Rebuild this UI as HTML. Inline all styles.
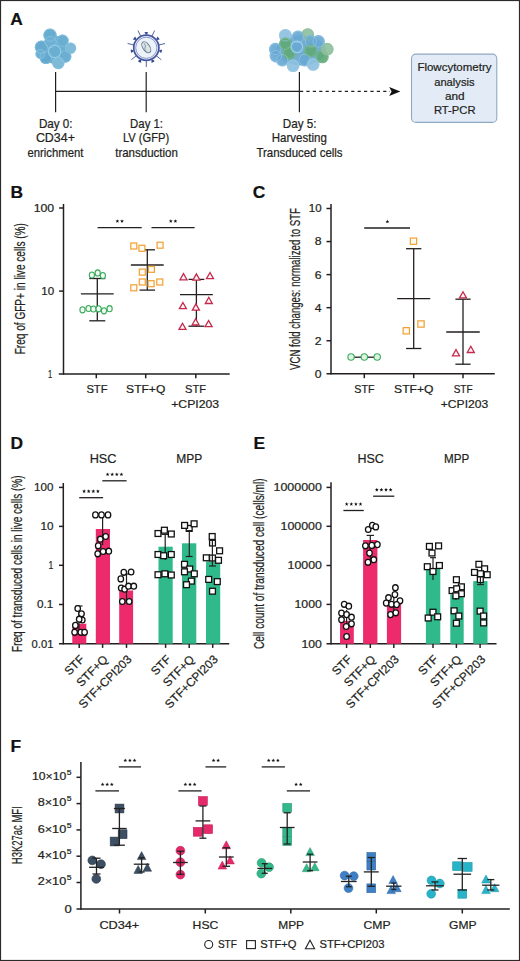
<!DOCTYPE html>
<html><head><meta charset="utf-8"><style>
html,body{margin:0;padding:0;background:#fff;}
body{width:520px;height:961px;overflow:hidden;}
svg{display:block;font-family:"Liberation Sans", sans-serif;}
text{stroke:#231f20;stroke-width:0.22px;paint-order:stroke;}
</style></head><body>
<svg width="520" height="961" viewBox="0 0 520 961">
<rect x="0" y="0" width="520" height="961" fill="#fff"/>
<text x="10.20" y="25.00" font-size="17.4" fill="#111" font-weight="bold">A</text>
<circle cx="55.50" cy="50.00" r="14.00" fill="#6aaed2" stroke="none" stroke-width="0"/>
<circle cx="50.00" cy="35.20" r="6.60" fill="#68acd0" stroke="none" stroke-width="0"/>
<circle cx="62.50" cy="40.80" r="6.20" fill="#6aaed2" stroke="none" stroke-width="0"/>
<circle cx="70.60" cy="48.20" r="5.60" fill="#80bcd9" stroke="none" stroke-width="0"/>
<circle cx="41.40" cy="47.20" r="6.60" fill="#66aad0" stroke="none" stroke-width="0"/>
<circle cx="50.50" cy="42.00" r="6.20" fill="#6eb0d3" stroke="none" stroke-width="0"/>
<circle cx="45.90" cy="57.60" r="6.40" fill="#64a8ce" stroke="none" stroke-width="0"/>
<circle cx="65.20" cy="56.50" r="6.20" fill="#6caed2" stroke="none" stroke-width="0"/>
<circle cx="58.30" cy="63.00" r="6.20" fill="#7cbad8" stroke="none" stroke-width="0"/>
<circle cx="54.60" cy="51.40" r="7.00" fill="#6aaed2" stroke="none" stroke-width="0"/>
<circle cx="40.50" cy="54.00" r="5.00" fill="#6eb0d3" stroke="none" stroke-width="0"/>
<circle cx="50.00" cy="35.20" r="6.07" fill="none" stroke="#8ac6e2" stroke-width="0.8" stroke-opacity="0.8"/>
<circle cx="62.50" cy="40.80" r="5.70" fill="none" stroke="#8ac6e2" stroke-width="0.8" stroke-opacity="0.8"/>
<circle cx="70.60" cy="48.20" r="5.15" fill="none" stroke="#8ac6e2" stroke-width="0.8" stroke-opacity="0.8"/>
<circle cx="41.40" cy="47.20" r="6.07" fill="none" stroke="#8ac6e2" stroke-width="0.8" stroke-opacity="0.8"/>
<circle cx="50.50" cy="42.00" r="5.70" fill="none" stroke="#8ac6e2" stroke-width="0.8" stroke-opacity="0.8"/>
<circle cx="45.90" cy="57.60" r="5.89" fill="none" stroke="#8ac6e2" stroke-width="0.8" stroke-opacity="0.8"/>
<circle cx="65.20" cy="56.50" r="5.70" fill="none" stroke="#8ac6e2" stroke-width="0.8" stroke-opacity="0.8"/>
<circle cx="58.30" cy="63.00" r="5.70" fill="none" stroke="#8ac6e2" stroke-width="0.8" stroke-opacity="0.8"/>
<circle cx="54.60" cy="51.40" r="6.44" fill="none" stroke="#8ac6e2" stroke-width="0.8" stroke-opacity="0.8"/>
<circle cx="40.50" cy="54.00" r="4.60" fill="none" stroke="#8ac6e2" stroke-width="0.8" stroke-opacity="0.8"/>
<circle cx="54.60" cy="51.40" r="6.20" fill="none" stroke="#92cbe6" stroke-width="1.1"/>
<polygon points="146.80,34.60 148.20,32.20 146.30,31.90 144.40,32.20 145.80,34.60" fill="#34478f"/>
<line x1="151.85" y1="36.27" x2="154.63" y2="30.50" stroke="#56649f" stroke-width="1.0"/>
<polygon points="156.93,39.96 159.68,39.56 158.73,37.89 157.31,36.59 156.31,39.18" fill="#34478f"/>
<line x1="158.78" y1="44.95" x2="165.02" y2="43.53" stroke="#56649f" stroke-width="1.0"/>
<polygon points="159.06,51.22 161.09,53.12 161.80,51.34 161.93,49.42 159.28,50.25" fill="#34478f"/>
<line x1="156.31" y1="55.78" x2="161.31" y2="59.77" stroke="#56649f" stroke-width="1.0"/>
<polygon points="151.58,59.91 151.36,62.68 153.20,62.13 154.78,61.03 152.48,59.48" fill="#34478f"/>
<line x1="146.30" y1="60.60" x2="146.30" y2="67.00" stroke="#56649f" stroke-width="1.0"/>
<polygon points="140.12,59.48 137.82,61.03 139.40,62.13 141.24,62.68 141.02,59.91" fill="#34478f"/>
<line x1="136.29" y1="55.78" x2="131.29" y2="59.77" stroke="#56649f" stroke-width="1.0"/>
<polygon points="133.32,50.25 130.67,49.42 130.80,51.34 131.51,53.12 133.54,51.22" fill="#34478f"/>
<line x1="133.82" y1="44.95" x2="127.58" y2="43.53" stroke="#56649f" stroke-width="1.0"/>
<polygon points="136.29,39.18 135.29,36.59 133.87,37.89 132.92,39.56 135.67,39.96" fill="#34478f"/>
<line x1="140.75" y1="36.27" x2="137.97" y2="30.50" stroke="#56649f" stroke-width="1.0"/>
<circle cx="146.30" cy="47.80" r="12.60" fill="#edf1fa" stroke="#4555a0" stroke-width="1.7"/>
<circle cx="146.30" cy="47.80" r="10.60" fill="none" stroke="#7080bd" stroke-width="0.8"/>
<ellipse cx="146.60000000000002" cy="47.3" rx="3.4" ry="6.2" transform="rotate(-35 146.3 47.8)" fill="#d9e2e4" stroke="#6b8090" stroke-width="1.0"/>
<path d="M144.10000000000002,43.3 q2.5,2.5 0.8,5 q-1,2.2 2.6,4.2" fill="none" stroke="#71868f" stroke-width="0.8"/>
<ellipse cx="301" cy="50.5" rx="25" ry="15" fill="#74aecb"/>
<circle cx="276.00" cy="56.00" r="6.40" fill="#68a8d4" stroke="none" stroke-width="0" fill-opacity="0.92"/>
<circle cx="275.40" cy="49.20" r="6.40" fill="#68a8d4" stroke="none" stroke-width="0" fill-opacity="0.92"/>
<circle cx="285.40" cy="35.40" r="6.40" fill="#8cc0df" stroke="none" stroke-width="0" fill-opacity="0.92"/>
<circle cx="307.70" cy="34.60" r="6.40" fill="#8fc0a0" stroke="none" stroke-width="0" fill-opacity="0.92"/>
<circle cx="282.30" cy="60.00" r="6.40" fill="#68a8d4" stroke="none" stroke-width="0" fill-opacity="0.92"/>
<circle cx="293.10" cy="65.60" r="6.40" fill="#8cc0df" stroke="none" stroke-width="0" fill-opacity="0.92"/>
<circle cx="304.60" cy="60.00" r="6.40" fill="#68a8d4" stroke="none" stroke-width="0" fill-opacity="0.92"/>
<circle cx="313.10" cy="64.40" r="6.40" fill="#8cc0df" stroke="none" stroke-width="0" fill-opacity="0.92"/>
<circle cx="285.40" cy="43.80" r="6.40" fill="#5fa877" stroke="none" stroke-width="0" fill-opacity="0.92"/>
<circle cx="289.20" cy="53.10" r="6.40" fill="#5fa877" stroke="none" stroke-width="0" fill-opacity="0.92"/>
<circle cx="296.90" cy="46.90" r="6.40" fill="#68a8d4" stroke="none" stroke-width="0" fill-opacity="0.92"/>
<circle cx="310.80" cy="41.50" r="6.40" fill="#68a8d4" stroke="none" stroke-width="0" fill-opacity="0.92"/>
<circle cx="318.50" cy="41.50" r="6.40" fill="#68a8d4" stroke="none" stroke-width="0" fill-opacity="0.92"/>
<circle cx="310.80" cy="50.80" r="6.40" fill="#5fa877" stroke="none" stroke-width="0" fill-opacity="0.92"/>
<circle cx="322.30" cy="56.90" r="6.40" fill="#5fa877" stroke="none" stroke-width="0" fill-opacity="0.92"/>
<circle cx="327.20" cy="49.20" r="6.40" fill="#8fc0a0" stroke="none" stroke-width="0" fill-opacity="0.92"/>
<circle cx="298.00" cy="37.00" r="6.40" fill="#68a8d4" stroke="none" stroke-width="0" fill-opacity="0.92"/>
<circle cx="276.00" cy="56.00" r="5.60" fill="none" stroke="#9cc9e4" stroke-width="0.8" stroke-opacity="0.8"/>
<circle cx="275.40" cy="49.20" r="5.60" fill="none" stroke="#9cc9e4" stroke-width="0.8" stroke-opacity="0.8"/>
<circle cx="285.40" cy="35.40" r="5.60" fill="none" stroke="#9cc9e4" stroke-width="0.8" stroke-opacity="0.8"/>
<circle cx="307.70" cy="34.60" r="5.60" fill="none" stroke="#86c096" stroke-width="0.8" stroke-opacity="0.8"/>
<circle cx="282.30" cy="60.00" r="5.60" fill="none" stroke="#9cc9e4" stroke-width="0.8" stroke-opacity="0.8"/>
<circle cx="293.10" cy="65.60" r="5.60" fill="none" stroke="#9cc9e4" stroke-width="0.8" stroke-opacity="0.8"/>
<circle cx="304.60" cy="60.00" r="5.60" fill="none" stroke="#9cc9e4" stroke-width="0.8" stroke-opacity="0.8"/>
<circle cx="313.10" cy="64.40" r="5.60" fill="none" stroke="#9cc9e4" stroke-width="0.8" stroke-opacity="0.8"/>
<circle cx="285.40" cy="43.80" r="5.60" fill="none" stroke="#86c096" stroke-width="0.8" stroke-opacity="0.8"/>
<circle cx="289.20" cy="53.10" r="5.60" fill="none" stroke="#86c096" stroke-width="0.8" stroke-opacity="0.8"/>
<circle cx="296.90" cy="46.90" r="5.60" fill="none" stroke="#9cc9e4" stroke-width="0.8" stroke-opacity="0.8"/>
<circle cx="310.80" cy="41.50" r="5.60" fill="none" stroke="#9cc9e4" stroke-width="0.8" stroke-opacity="0.8"/>
<circle cx="318.50" cy="41.50" r="5.60" fill="none" stroke="#9cc9e4" stroke-width="0.8" stroke-opacity="0.8"/>
<circle cx="310.80" cy="50.80" r="5.60" fill="none" stroke="#86c096" stroke-width="0.8" stroke-opacity="0.8"/>
<circle cx="322.30" cy="56.90" r="5.60" fill="none" stroke="#86c096" stroke-width="0.8" stroke-opacity="0.8"/>
<circle cx="327.20" cy="49.20" r="5.60" fill="none" stroke="#86c096" stroke-width="0.8" stroke-opacity="0.8"/>
<circle cx="298.00" cy="37.00" r="5.60" fill="none" stroke="#9cc9e4" stroke-width="0.8" stroke-opacity="0.8"/>
<circle cx="296.90" cy="46.90" r="5.80" fill="none" stroke="#98cdee" stroke-width="1.2"/>
<line x1="55.60" y1="71.90" x2="55.60" y2="112.30" stroke="#231f20" stroke-width="1.2"/>
<line x1="146.20" y1="71.90" x2="146.20" y2="112.30" stroke="#231f20" stroke-width="1.2"/>
<line x1="299.40" y1="71.90" x2="299.40" y2="112.30" stroke="#231f20" stroke-width="1.2"/>
<line x1="55.60" y1="91.40" x2="299.40" y2="91.40" stroke="#231f20" stroke-width="1.2"/>
<line x1="299.40" y1="91.40" x2="390.00" y2="91.40" stroke="#231f20" stroke-width="1.2" stroke-dasharray="3.2 3.2" stroke-dashoffset="-0.6"/>
<path d="M400.3,91.4 L389.2,86.9 L391.6,91.4 L389.2,95.9 Z" fill="#111"/>
<text x="55.75" y="127.60" font-size="12.2" fill="#231f20" text-anchor="middle" textLength="33.70" lengthAdjust="spacingAndGlyphs">Day 0:</text>
<text x="55.40" y="142.20" font-size="12.2" fill="#231f20" text-anchor="middle" textLength="39.00" lengthAdjust="spacingAndGlyphs">CD34+</text>
<text x="55.40" y="156.80" font-size="12.2" fill="#231f20" text-anchor="middle" textLength="56.00" lengthAdjust="spacingAndGlyphs">enrichment</text>
<text x="146.55" y="127.60" font-size="12.2" fill="#231f20" text-anchor="middle" textLength="32.90" lengthAdjust="spacingAndGlyphs">Day 1:</text>
<text x="146.00" y="142.20" font-size="12.2" fill="#231f20" text-anchor="middle" textLength="46.20" lengthAdjust="spacingAndGlyphs">LV (GFP)</text>
<text x="146.55" y="156.80" font-size="12.2" fill="#231f20" text-anchor="middle" textLength="62.70" lengthAdjust="spacingAndGlyphs">transduction</text>
<text x="299.70" y="127.60" font-size="12.2" fill="#231f20" text-anchor="middle" textLength="33.80" lengthAdjust="spacingAndGlyphs">Day 5:</text>
<text x="299.30" y="142.20" font-size="12.2" fill="#231f20" text-anchor="middle" textLength="55.00" lengthAdjust="spacingAndGlyphs">Harvesting</text>
<text x="299.50" y="156.80" font-size="12.2" fill="#231f20" text-anchor="middle" textLength="86.20" lengthAdjust="spacingAndGlyphs">Transduced cells</text>
<rect x="411.5" y="54.1" width="85.3" height="68.3" rx="4.5" fill="#e2ebf6" stroke="#8fa8c2" stroke-width="1.1"/>
<text x="454.45" y="71.20" font-size="11.7" fill="#231f20" text-anchor="middle" textLength="74.10" lengthAdjust="spacingAndGlyphs">Flowcytometry</text>
<text x="454.40" y="85.70" font-size="11.7" fill="#231f20" text-anchor="middle" textLength="40.40" lengthAdjust="spacingAndGlyphs">analysis</text>
<text x="454.75" y="100.20" font-size="11.7" fill="#231f20" text-anchor="middle" textLength="19.70" lengthAdjust="spacingAndGlyphs">and</text>
<text x="454.70" y="114.40" font-size="11.7" fill="#231f20" text-anchor="middle" textLength="41.60" lengthAdjust="spacingAndGlyphs">RT-PCR</text>
<text x="10.40" y="197.60" font-size="17.4" fill="#111" font-weight="bold">B</text>
<line x1="63.50" y1="204.00" x2="63.50" y2="374.60" stroke="#231f20" stroke-width="1.5"/>
<line x1="58.80" y1="373.90" x2="229.70" y2="373.90" stroke="#231f20" stroke-width="1.5"/>
<line x1="59.10" y1="208.00" x2="63.50" y2="208.00" stroke="#231f20" stroke-width="1.5"/>
<line x1="59.10" y1="291.10" x2="63.50" y2="291.10" stroke="#231f20" stroke-width="1.5"/>
<line x1="96.30" y1="373.90" x2="96.30" y2="378.30" stroke="#231f20" stroke-width="1.5"/>
<line x1="145.70" y1="373.90" x2="145.70" y2="378.30" stroke="#231f20" stroke-width="1.5"/>
<line x1="195.80" y1="373.90" x2="195.80" y2="378.30" stroke="#231f20" stroke-width="1.5"/>
<text x="54.20" y="212.10" font-size="11.2" fill="#231f20" text-anchor="end" textLength="20.50" lengthAdjust="spacingAndGlyphs">100</text>
<text x="54.20" y="295.00" font-size="11.2" fill="#231f20" text-anchor="end" textLength="12.90" lengthAdjust="spacingAndGlyphs">10</text>
<text x="52.30" y="377.90" font-size="11.2" fill="#231f20" text-anchor="end" textLength="4.20" lengthAdjust="spacingAndGlyphs">1</text>
<text x="25.00" y="354.30" font-size="14" fill="#231f20" textLength="131.20" lengthAdjust="spacingAndGlyphs" transform="rotate(-90 25.00 354.30)">Freq of GFP+ in live cells (%)</text>
<text x="97.00" y="393.20" font-size="11.2" fill="#231f20" text-anchor="middle" textLength="21.20" lengthAdjust="spacingAndGlyphs">STF</text>
<text x="145.70" y="393.20" font-size="11.2" fill="#231f20" text-anchor="middle" textLength="39.20" lengthAdjust="spacingAndGlyphs">STF+Q</text>
<text x="195.55" y="393.20" font-size="11.2" fill="#231f20" text-anchor="middle" textLength="20.90" lengthAdjust="spacingAndGlyphs">STF</text>
<text x="195.15" y="408.30" font-size="11.2" fill="#231f20" text-anchor="middle" textLength="47.90" lengthAdjust="spacingAndGlyphs">+CPI203</text>
<line x1="97.60" y1="227.60" x2="141.70" y2="227.60" stroke="#231f20" stroke-width="1.3"/>
<line x1="151.50" y1="227.60" x2="194.60" y2="227.60" stroke="#231f20" stroke-width="1.3"/>
<polygon points="117.40,219.20 117.90,220.51 119.30,220.58 118.21,221.46 118.58,222.82 117.40,222.05 116.22,222.82 116.59,221.46 115.50,220.58 116.90,220.51" fill="#111"/>
<polygon points="122.00,219.20 122.50,220.51 123.90,220.58 122.81,221.46 123.18,222.82 122.00,222.05 120.82,222.82 121.19,221.46 120.10,220.58 121.50,220.51" fill="#111"/>
<polygon points="170.80,219.20 171.30,220.51 172.70,220.58 171.61,221.46 171.98,222.82 170.80,222.05 169.62,222.82 169.99,221.46 168.90,220.58 170.30,220.51" fill="#111"/>
<polygon points="175.40,219.20 175.90,220.51 177.30,220.58 176.21,221.46 176.58,222.82 175.40,222.05 174.22,222.82 174.59,221.46 173.50,220.58 174.90,220.51" fill="#111"/>
<line x1="97.30" y1="278.50" x2="97.30" y2="320.80" stroke="#231f20" stroke-width="1.3"/>
<line x1="89.30" y1="278.50" x2="105.30" y2="278.50" stroke="#231f20" stroke-width="1.3"/>
<line x1="89.30" y1="320.80" x2="105.30" y2="320.80" stroke="#231f20" stroke-width="1.3"/>
<line x1="80.90" y1="293.80" x2="113.70" y2="293.80" stroke="#231f20" stroke-width="1.3"/>
<line x1="147.30" y1="249.80" x2="147.30" y2="290.10" stroke="#231f20" stroke-width="1.3"/>
<line x1="139.55" y1="249.80" x2="155.05" y2="249.80" stroke="#231f20" stroke-width="1.3"/>
<line x1="139.55" y1="290.10" x2="155.05" y2="290.10" stroke="#231f20" stroke-width="1.3"/>
<line x1="130.90" y1="265.00" x2="163.70" y2="265.00" stroke="#231f20" stroke-width="1.3"/>
<line x1="196.40" y1="279.40" x2="196.40" y2="326.20" stroke="#231f20" stroke-width="1.3"/>
<line x1="188.50" y1="279.40" x2="204.30" y2="279.40" stroke="#231f20" stroke-width="1.3"/>
<line x1="188.50" y1="326.20" x2="204.30" y2="326.20" stroke="#231f20" stroke-width="1.3"/>
<line x1="179.95" y1="294.60" x2="212.85" y2="294.60" stroke="#231f20" stroke-width="1.3"/>
<ellipse cx="91.90" cy="275.00" rx="2.60" ry="3.05" fill="#f0faf2" stroke="#3aaa5c" stroke-width="1.1"/>
<ellipse cx="97.70" cy="272.90" rx="2.60" ry="3.05" fill="#f0faf2" stroke="#3aaa5c" stroke-width="1.1"/>
<ellipse cx="102.90" cy="275.60" rx="2.60" ry="3.05" fill="#f0faf2" stroke="#3aaa5c" stroke-width="1.1"/>
<ellipse cx="82.50" cy="309.80" rx="2.60" ry="3.05" fill="#f0faf2" stroke="#3aaa5c" stroke-width="1.1"/>
<ellipse cx="88.50" cy="308.50" rx="2.60" ry="3.05" fill="#f0faf2" stroke="#3aaa5c" stroke-width="1.1"/>
<ellipse cx="93.40" cy="309.00" rx="2.60" ry="3.05" fill="#f0faf2" stroke="#3aaa5c" stroke-width="1.1"/>
<ellipse cx="98.60" cy="308.80" rx="2.60" ry="3.05" fill="#f0faf2" stroke="#3aaa5c" stroke-width="1.1"/>
<ellipse cx="104.00" cy="310.80" rx="2.60" ry="3.05" fill="#f0faf2" stroke="#3aaa5c" stroke-width="1.1"/>
<ellipse cx="109.60" cy="308.70" rx="2.60" ry="3.05" fill="#f0faf2" stroke="#3aaa5c" stroke-width="1.1"/>
<rect x="130.80" y="243.00" width="6.00" height="6.00" fill="#fffaf2" stroke="#f0a032" stroke-width="1.2"/>
<rect x="138.90" y="245.30" width="6.00" height="6.00" fill="#fffaf2" stroke="#f0a032" stroke-width="1.2"/>
<rect x="157.10" y="242.20" width="6.00" height="6.00" fill="#fffaf2" stroke="#f0a032" stroke-width="1.2"/>
<rect x="148.40" y="266.30" width="6.00" height="6.00" fill="#fffaf2" stroke="#f0a032" stroke-width="1.2"/>
<rect x="139.30" y="269.10" width="6.00" height="6.00" fill="#fffaf2" stroke="#f0a032" stroke-width="1.2"/>
<rect x="139.30" y="279.00" width="6.00" height="6.00" fill="#fffaf2" stroke="#f0a032" stroke-width="1.2"/>
<rect x="148.10" y="280.70" width="6.00" height="6.00" fill="#fffaf2" stroke="#f0a032" stroke-width="1.2"/>
<rect x="156.80" y="279.00" width="6.00" height="6.00" fill="#fffaf2" stroke="#f0a032" stroke-width="1.2"/>
<rect x="130.80" y="284.80" width="6.00" height="6.00" fill="#fffaf2" stroke="#f0a032" stroke-width="1.2"/>
<polygon points="183.50,273.60 187.00,279.80 180.00,279.80" fill="#fff5f7" stroke="#c42a4c" stroke-width="1.3" stroke-linejoin="miter"/>
<polygon points="196.40,273.90 199.90,280.10 192.90,280.10" fill="#fff5f7" stroke="#c42a4c" stroke-width="1.3" stroke-linejoin="miter"/>
<polygon points="210.00,272.50 213.50,278.70 206.50,278.70" fill="#fff5f7" stroke="#c42a4c" stroke-width="1.3" stroke-linejoin="miter"/>
<polygon points="208.80,297.30 212.30,303.50 205.30,303.50" fill="#fff5f7" stroke="#c42a4c" stroke-width="1.3" stroke-linejoin="miter"/>
<polygon points="182.90,302.50 186.40,308.70 179.40,308.70" fill="#fff5f7" stroke="#c42a4c" stroke-width="1.3" stroke-linejoin="miter"/>
<polygon points="195.90,303.90 199.40,310.10 192.40,310.10" fill="#fff5f7" stroke="#c42a4c" stroke-width="1.3" stroke-linejoin="miter"/>
<polygon points="195.60,318.80 199.10,325.00 192.10,325.00" fill="#fff5f7" stroke="#c42a4c" stroke-width="1.3" stroke-linejoin="miter"/>
<polygon points="208.60,320.50 212.10,326.70 205.10,326.70" fill="#fff5f7" stroke="#c42a4c" stroke-width="1.3" stroke-linejoin="miter"/>
<polygon points="182.50,323.20 186.00,329.40 179.00,329.40" fill="#fff5f7" stroke="#c42a4c" stroke-width="1.3" stroke-linejoin="miter"/>
<text x="252.70" y="197.70" font-size="17.4" fill="#111" font-weight="bold">C</text>
<line x1="331.00" y1="204.00" x2="331.00" y2="374.60" stroke="#231f20" stroke-width="1.5"/>
<line x1="326.50" y1="373.80" x2="494.80" y2="373.80" stroke="#231f20" stroke-width="1.5"/>
<line x1="326.50" y1="208.50" x2="331.00" y2="208.50" stroke="#231f20" stroke-width="1.5"/>
<line x1="326.50" y1="241.56" x2="331.00" y2="241.56" stroke="#231f20" stroke-width="1.5"/>
<line x1="326.50" y1="274.62" x2="331.00" y2="274.62" stroke="#231f20" stroke-width="1.5"/>
<line x1="326.50" y1="307.68" x2="331.00" y2="307.68" stroke="#231f20" stroke-width="1.5"/>
<line x1="326.50" y1="340.74" x2="331.00" y2="340.74" stroke="#231f20" stroke-width="1.5"/>
<line x1="364.30" y1="373.80" x2="364.30" y2="378.20" stroke="#231f20" stroke-width="1.5"/>
<line x1="413.70" y1="373.80" x2="413.70" y2="378.20" stroke="#231f20" stroke-width="1.5"/>
<line x1="463.00" y1="373.80" x2="463.00" y2="378.20" stroke="#231f20" stroke-width="1.5"/>
<text x="321.60" y="212.00" font-size="10.8" fill="#231f20" text-anchor="end" textLength="12.80" lengthAdjust="spacingAndGlyphs">10</text>
<text x="321.60" y="245.46" font-size="10.8" fill="#231f20" text-anchor="end" textLength="6.80" lengthAdjust="spacingAndGlyphs">8</text>
<text x="321.60" y="278.52" font-size="10.8" fill="#231f20" text-anchor="end" textLength="6.80" lengthAdjust="spacingAndGlyphs">6</text>
<text x="321.60" y="311.58" font-size="10.8" fill="#231f20" text-anchor="end" textLength="6.80" lengthAdjust="spacingAndGlyphs">4</text>
<text x="321.60" y="344.64" font-size="10.8" fill="#231f20" text-anchor="end" textLength="6.80" lengthAdjust="spacingAndGlyphs">2</text>
<text x="321.60" y="377.70" font-size="10.8" fill="#231f20" text-anchor="end" textLength="6.80" lengthAdjust="spacingAndGlyphs">0</text>
<text x="299.70" y="369.90" font-size="14" fill="#231f20" textLength="161.80" lengthAdjust="spacingAndGlyphs" transform="rotate(-90 299.70 369.90)">VCN fold changes: normalized to STF</text>
<text x="364.45" y="393.20" font-size="11.2" fill="#231f20" text-anchor="middle" textLength="20.30" lengthAdjust="spacingAndGlyphs">STF</text>
<text x="413.80" y="393.20" font-size="11.2" fill="#231f20" text-anchor="middle" textLength="39.40" lengthAdjust="spacingAndGlyphs">STF+Q</text>
<text x="463.15" y="393.20" font-size="11.2" fill="#231f20" text-anchor="middle" textLength="18.90" lengthAdjust="spacingAndGlyphs">STF</text>
<text x="464.50" y="408.30" font-size="11.2" fill="#231f20" text-anchor="middle" textLength="47.40" lengthAdjust="spacingAndGlyphs">+CPI203</text>
<line x1="364.20" y1="228.00" x2="410.00" y2="228.00" stroke="#231f20" stroke-width="1.3"/>
<polygon points="387.40,219.60 387.90,220.91 389.30,220.98 388.21,221.86 388.58,223.22 387.40,222.45 386.22,223.22 386.59,221.86 385.50,220.98 386.90,220.91" fill="#111"/>
<line x1="351.00" y1="357.20" x2="377.00" y2="357.20" stroke="#231f20" stroke-width="1.3"/>
<circle cx="351.05" cy="357.00" r="3.20" fill="#dcf4e2" stroke="#3aaa5c" stroke-width="1.1"/>
<circle cx="364.30" cy="357.00" r="3.20" fill="#dcf4e2" stroke="#3aaa5c" stroke-width="1.1"/>
<circle cx="377.20" cy="357.00" r="3.20" fill="#dcf4e2" stroke="#3aaa5c" stroke-width="1.1"/>
<line x1="413.70" y1="248.70" x2="413.70" y2="348.50" stroke="#231f20" stroke-width="1.3"/>
<line x1="406.05" y1="248.70" x2="421.35" y2="248.70" stroke="#231f20" stroke-width="1.3"/>
<line x1="406.05" y1="348.50" x2="421.35" y2="348.50" stroke="#231f20" stroke-width="1.3"/>
<line x1="397.15" y1="298.70" x2="430.25" y2="298.70" stroke="#231f20" stroke-width="1.3"/>
<rect x="410.35" y="238.05" width="6.30" height="6.30" fill="#fffaf2" stroke="#f0a032" stroke-width="1.2"/>
<rect x="417.85" y="320.85" width="6.30" height="6.30" fill="#fffaf2" stroke="#f0a032" stroke-width="1.2"/>
<rect x="403.15" y="327.65" width="6.30" height="6.30" fill="#fffaf2" stroke="#f0a032" stroke-width="1.2"/>
<line x1="463.00" y1="299.20" x2="463.00" y2="364.20" stroke="#231f20" stroke-width="1.3"/>
<line x1="455.40" y1="299.20" x2="470.60" y2="299.20" stroke="#231f20" stroke-width="1.3"/>
<line x1="455.40" y1="364.20" x2="470.60" y2="364.20" stroke="#231f20" stroke-width="1.3"/>
<line x1="446.25" y1="332.00" x2="479.75" y2="332.00" stroke="#231f20" stroke-width="1.3"/>
<polygon points="463.00,291.70 466.50,297.90 459.50,297.90" fill="#fff5f7" stroke="#c42a4c" stroke-width="1.3" stroke-linejoin="miter"/>
<polygon points="456.00,349.60 459.50,355.80 452.50,355.80" fill="#fff5f7" stroke="#c42a4c" stroke-width="1.3" stroke-linejoin="miter"/>
<polygon points="470.80,346.30 474.30,352.50 467.30,352.50" fill="#fff5f7" stroke="#c42a4c" stroke-width="1.3" stroke-linejoin="miter"/>
<text x="10.40" y="448.60" font-size="17.4" fill="#111" font-weight="bold">D</text>
<text x="103.12" y="463.20" font-size="12.0" fill="#231f20" text-anchor="middle" textLength="26.85" lengthAdjust="spacingAndGlyphs">HSC</text>
<text x="189.20" y="463.20" font-size="12.0" fill="#231f20" text-anchor="middle" textLength="26.00" lengthAdjust="spacingAndGlyphs">MPP</text>
<line x1="63.30" y1="483.00" x2="63.30" y2="644.40" stroke="#231f20" stroke-width="1.5"/>
<line x1="59.00" y1="643.70" x2="229.20" y2="643.70" stroke="#231f20" stroke-width="1.5"/>
<line x1="59.00" y1="487.40" x2="63.30" y2="487.40" stroke="#231f20" stroke-width="1.5"/>
<line x1="59.00" y1="526.40" x2="63.30" y2="526.40" stroke="#231f20" stroke-width="1.5"/>
<line x1="59.00" y1="565.30" x2="63.30" y2="565.30" stroke="#231f20" stroke-width="1.5"/>
<line x1="59.00" y1="604.50" x2="63.30" y2="604.50" stroke="#231f20" stroke-width="1.5"/>
<line x1="79.20" y1="643.70" x2="79.20" y2="647.90" stroke="#231f20" stroke-width="1.5"/>
<line x1="102.60" y1="643.70" x2="102.60" y2="647.90" stroke="#231f20" stroke-width="1.5"/>
<line x1="126.50" y1="643.70" x2="126.50" y2="647.90" stroke="#231f20" stroke-width="1.5"/>
<line x1="165.60" y1="643.70" x2="165.60" y2="647.90" stroke="#231f20" stroke-width="1.5"/>
<line x1="189.20" y1="643.70" x2="189.20" y2="647.90" stroke="#231f20" stroke-width="1.5"/>
<line x1="212.70" y1="643.70" x2="212.70" y2="647.90" stroke="#231f20" stroke-width="1.5"/>
<text x="53.40" y="491.30" font-size="10.8" fill="#231f20" text-anchor="end" textLength="19.30" lengthAdjust="spacingAndGlyphs">100</text>
<text x="53.40" y="530.30" font-size="10.8" fill="#231f20" text-anchor="end" textLength="13.00" lengthAdjust="spacingAndGlyphs">10</text>
<text x="53.40" y="569.20" font-size="10.8" fill="#231f20" text-anchor="end" textLength="4.80" lengthAdjust="spacingAndGlyphs">1</text>
<text x="53.40" y="608.40" font-size="10.8" fill="#231f20" text-anchor="end" textLength="16.30" lengthAdjust="spacingAndGlyphs">0.1</text>
<text x="53.40" y="647.50" font-size="10.8" fill="#231f20" text-anchor="end" textLength="21.80" lengthAdjust="spacingAndGlyphs">0.01</text>
<text x="22.30" y="651.90" font-size="14" fill="#231f20" textLength="176.40" lengthAdjust="spacingAndGlyphs" transform="rotate(-90 22.30 651.90)">Freq of transduced cells in live cells (%)</text>
<rect x="72.30" y="623.70" width="14.00" height="20.00" fill="#ec2a6c" stroke="none" stroke-width="0"/>
<rect x="95.80" y="529.00" width="14.20" height="114.70" fill="#ec2a6c" stroke="none" stroke-width="0"/>
<rect x="119.20" y="590.50" width="13.90" height="53.20" fill="#ec2a6c" stroke="none" stroke-width="0"/>
<rect x="158.50" y="546.70" width="14.20" height="97.00" fill="#30ba8c" stroke="none" stroke-width="0"/>
<rect x="182.00" y="543.30" width="14.30" height="100.40" fill="#30ba8c" stroke="none" stroke-width="0"/>
<rect x="206.00" y="561.40" width="14.20" height="82.30" fill="#30ba8c" stroke="none" stroke-width="0"/>
<line x1="79.20" y1="497.70" x2="103.10" y2="497.70" stroke="#231f20" stroke-width="1.3"/>
<line x1="102.30" y1="480.80" x2="126.60" y2="480.80" stroke="#231f20" stroke-width="1.3"/>
<polygon points="84.10,489.30 84.60,490.61 86.00,490.68 84.91,491.56 85.28,492.92 84.10,492.15 82.92,492.92 83.29,491.56 82.20,490.68 83.60,490.61" fill="#111"/>
<polygon points="88.70,489.30 89.20,490.61 90.60,490.68 89.51,491.56 89.88,492.92 88.70,492.15 87.52,492.92 87.89,491.56 86.80,490.68 88.20,490.61" fill="#111"/>
<polygon points="93.30,489.30 93.80,490.61 95.20,490.68 94.11,491.56 94.48,492.92 93.30,492.15 92.12,492.92 92.49,491.56 91.40,490.68 92.80,490.61" fill="#111"/>
<polygon points="97.90,489.30 98.40,490.61 99.80,490.68 98.71,491.56 99.08,492.92 97.90,492.15 96.72,492.92 97.09,491.56 96.00,490.68 97.40,490.61" fill="#111"/>
<polygon points="107.60,472.40 108.10,473.71 109.50,473.78 108.41,474.66 108.78,476.02 107.60,475.25 106.42,476.02 106.79,474.66 105.70,473.78 107.10,473.71" fill="#111"/>
<polygon points="112.20,472.40 112.70,473.71 114.10,473.78 113.01,474.66 113.38,476.02 112.20,475.25 111.02,476.02 111.39,474.66 110.30,473.78 111.70,473.71" fill="#111"/>
<polygon points="116.80,472.40 117.30,473.71 118.70,473.78 117.61,474.66 117.98,476.02 116.80,475.25 115.62,476.02 115.99,474.66 114.90,473.78 116.30,473.71" fill="#111"/>
<polygon points="121.40,472.40 121.90,473.71 123.30,473.78 122.21,474.66 122.58,476.02 121.40,475.25 120.22,476.02 120.59,474.66 119.50,473.78 120.90,473.71" fill="#111"/>
<line x1="79.00" y1="606.00" x2="79.00" y2="633.00" stroke="#231f20" stroke-width="1.2"/>
<line x1="75.50" y1="606.00" x2="82.50" y2="606.00" stroke="#231f20" stroke-width="1.2"/>
<line x1="102.60" y1="515.00" x2="102.60" y2="545.00" stroke="#231f20" stroke-width="1.2"/>
<line x1="126.50" y1="574.00" x2="126.50" y2="600.00" stroke="#231f20" stroke-width="1.2"/>
<line x1="123.00" y1="574.00" x2="130.00" y2="574.00" stroke="#231f20" stroke-width="1.2"/>
<line x1="165.20" y1="534.40" x2="165.20" y2="560.00" stroke="#231f20" stroke-width="1.2"/>
<line x1="161.50" y1="534.40" x2="169.00" y2="534.40" stroke="#231f20" stroke-width="1.2"/>
<ellipse cx="77.70" cy="608.50" rx="2.75" ry="2.95" fill="#ffffff" stroke="#111" stroke-width="1.3"/>
<ellipse cx="81.50" cy="613.80" rx="2.75" ry="2.95" fill="#ffffff" stroke="#111" stroke-width="1.3"/>
<ellipse cx="82.30" cy="620.00" rx="2.75" ry="2.95" fill="#ffffff" stroke="#111" stroke-width="1.3"/>
<ellipse cx="79.20" cy="619.20" rx="2.75" ry="2.95" fill="#ffffff" stroke="#111" stroke-width="1.3"/>
<ellipse cx="75.40" cy="625.40" rx="2.75" ry="2.95" fill="#ffffff" stroke="#111" stroke-width="1.3"/>
<ellipse cx="74.60" cy="632.30" rx="2.75" ry="2.95" fill="#ffffff" stroke="#111" stroke-width="1.3"/>
<ellipse cx="80.80" cy="632.30" rx="2.75" ry="2.95" fill="#ffffff" stroke="#111" stroke-width="1.3"/>
<ellipse cx="84.60" cy="632.30" rx="2.75" ry="2.95" fill="#ffffff" stroke="#111" stroke-width="1.3"/>
<ellipse cx="95.40" cy="514.90" rx="2.75" ry="2.95" fill="#ffffff" stroke="#111" stroke-width="1.3"/>
<ellipse cx="101.50" cy="514.90" rx="2.75" ry="2.95" fill="#ffffff" stroke="#111" stroke-width="1.3"/>
<ellipse cx="108.00" cy="514.90" rx="2.75" ry="2.95" fill="#ffffff" stroke="#111" stroke-width="1.3"/>
<ellipse cx="105.70" cy="536.50" rx="2.75" ry="2.95" fill="#ffffff" stroke="#111" stroke-width="1.3"/>
<ellipse cx="100.30" cy="539.20" rx="2.75" ry="2.95" fill="#ffffff" stroke="#111" stroke-width="1.3"/>
<ellipse cx="98.20" cy="545.80" rx="2.75" ry="2.95" fill="#ffffff" stroke="#111" stroke-width="1.3"/>
<ellipse cx="97.70" cy="553.80" rx="2.75" ry="2.95" fill="#ffffff" stroke="#111" stroke-width="1.3"/>
<ellipse cx="103.10" cy="551.50" rx="2.75" ry="2.95" fill="#ffffff" stroke="#111" stroke-width="1.3"/>
<ellipse cx="108.80" cy="551.20" rx="2.75" ry="2.95" fill="#ffffff" stroke="#111" stroke-width="1.3"/>
<ellipse cx="123.80" cy="572.30" rx="2.75" ry="2.95" fill="#ffffff" stroke="#111" stroke-width="1.3"/>
<ellipse cx="131.10" cy="572.00" rx="2.75" ry="2.95" fill="#ffffff" stroke="#111" stroke-width="1.3"/>
<ellipse cx="120.80" cy="578.90" rx="2.75" ry="2.95" fill="#ffffff" stroke="#111" stroke-width="1.3"/>
<ellipse cx="121.20" cy="588.00" rx="2.75" ry="2.95" fill="#ffffff" stroke="#111" stroke-width="1.3"/>
<ellipse cx="124.60" cy="589.20" rx="2.75" ry="2.95" fill="#ffffff" stroke="#111" stroke-width="1.3"/>
<ellipse cx="128.50" cy="586.20" rx="2.75" ry="2.95" fill="#ffffff" stroke="#111" stroke-width="1.3"/>
<ellipse cx="133.80" cy="586.20" rx="2.75" ry="2.95" fill="#ffffff" stroke="#111" stroke-width="1.3"/>
<ellipse cx="122.30" cy="601.50" rx="2.75" ry="2.95" fill="#ffffff" stroke="#111" stroke-width="1.3"/>
<ellipse cx="129.20" cy="601.50" rx="2.75" ry="2.95" fill="#ffffff" stroke="#111" stroke-width="1.3"/>
<rect x="155.07" y="530.58" width="5.85" height="5.85" fill="#ffffff" stroke="#111" stroke-width="1.3"/>
<rect x="161.47" y="527.28" width="5.85" height="5.85" fill="#ffffff" stroke="#111" stroke-width="1.3"/>
<rect x="168.38" y="531.08" width="5.85" height="5.85" fill="#ffffff" stroke="#111" stroke-width="1.3"/>
<rect x="155.07" y="551.58" width="5.85" height="5.85" fill="#ffffff" stroke="#111" stroke-width="1.3"/>
<rect x="160.77" y="552.78" width="5.85" height="5.85" fill="#ffffff" stroke="#111" stroke-width="1.3"/>
<rect x="168.38" y="551.58" width="5.85" height="5.85" fill="#ffffff" stroke="#111" stroke-width="1.3"/>
<rect x="155.07" y="571.78" width="5.85" height="5.85" fill="#ffffff" stroke="#111" stroke-width="1.3"/>
<rect x="161.97" y="570.88" width="5.85" height="5.85" fill="#ffffff" stroke="#111" stroke-width="1.3"/>
<rect x="168.38" y="572.08" width="5.85" height="5.85" fill="#ffffff" stroke="#111" stroke-width="1.3"/>
<rect x="186.27" y="525.48" width="5.85" height="5.85" fill="#ffffff" stroke="#111" stroke-width="1.3"/>
<rect x="181.67" y="522.48" width="5.85" height="5.85" fill="#ffffff" stroke="#111" stroke-width="1.3"/>
<rect x="191.17" y="520.88" width="5.85" height="5.85" fill="#ffffff" stroke="#111" stroke-width="1.3"/>
<rect x="181.57" y="561.38" width="5.85" height="5.85" fill="#ffffff" stroke="#111" stroke-width="1.3"/>
<rect x="186.77" y="566.08" width="5.85" height="5.85" fill="#ffffff" stroke="#111" stroke-width="1.3"/>
<rect x="181.57" y="568.88" width="5.85" height="5.85" fill="#ffffff" stroke="#111" stroke-width="1.3"/>
<rect x="191.38" y="570.88" width="5.85" height="5.85" fill="#ffffff" stroke="#111" stroke-width="1.3"/>
<rect x="188.47" y="578.18" width="5.85" height="5.85" fill="#ffffff" stroke="#111" stroke-width="1.3"/>
<rect x="183.57" y="581.78" width="5.85" height="5.85" fill="#ffffff" stroke="#111" stroke-width="1.3"/>
<rect x="209.57" y="540.08" width="5.85" height="5.85" fill="#ffffff" stroke="#111" stroke-width="1.3"/>
<rect x="209.27" y="533.58" width="5.85" height="5.85" fill="#ffffff" stroke="#111" stroke-width="1.3"/>
<rect x="216.67" y="547.88" width="5.85" height="5.85" fill="#ffffff" stroke="#111" stroke-width="1.3"/>
<rect x="209.57" y="555.08" width="5.85" height="5.85" fill="#ffffff" stroke="#111" stroke-width="1.3"/>
<rect x="203.38" y="554.88" width="5.85" height="5.85" fill="#ffffff" stroke="#111" stroke-width="1.3"/>
<rect x="215.57" y="557.38" width="5.85" height="5.85" fill="#ffffff" stroke="#111" stroke-width="1.3"/>
<rect x="205.77" y="576.48" width="5.85" height="5.85" fill="#ffffff" stroke="#111" stroke-width="1.3"/>
<rect x="214.38" y="578.68" width="5.85" height="5.85" fill="#ffffff" stroke="#111" stroke-width="1.3"/>
<rect x="209.57" y="588.28" width="5.85" height="5.85" fill="#ffffff" stroke="#111" stroke-width="1.3"/>
<line x1="212.40" y1="540.30" x2="212.40" y2="566.00" stroke="#231f20" stroke-width="1.2"/>
<line x1="208.90" y1="540.30" x2="215.90" y2="540.30" stroke="#231f20" stroke-width="1.3"/>
<line x1="209.00" y1="566.00" x2="216.00" y2="566.00" stroke="#231f20" stroke-width="1.2"/>
<line x1="189.30" y1="530.00" x2="189.30" y2="556.50" stroke="#231f20" stroke-width="1.2"/>
<line x1="185.70" y1="556.50" x2="192.60" y2="556.50" stroke="#231f20" stroke-width="1.2"/>
<line x1="186.30" y1="530.60" x2="192.30" y2="530.60" stroke="#231f20" stroke-width="1.2"/>
<text x="85.20" y="660.10" font-size="11.95" fill="#231f20" text-anchor="end" transform="rotate(-45 85.20 660.10)">STF</text>
<text x="171.60" y="660.10" font-size="11.95" fill="#231f20" text-anchor="end" transform="rotate(-45 171.60 660.10)">STF</text>
<text x="108.60" y="660.10" font-size="11.95" fill="#231f20" text-anchor="end" transform="rotate(-45 108.60 660.10)">STF+Q</text>
<text x="195.20" y="660.10" font-size="11.95" fill="#231f20" text-anchor="end" transform="rotate(-45 195.20 660.10)">STF+Q</text>
<text x="132.50" y="660.10" font-size="11.95" fill="#231f20" text-anchor="end" transform="rotate(-45 132.50 660.10)">STF+CPI203</text>
<text x="218.70" y="660.10" font-size="11.95" fill="#231f20" text-anchor="end" transform="rotate(-45 218.70 660.10)">STF+CPI203</text>
<text x="253.50" y="448.50" font-size="17.4" fill="#111" font-weight="bold">E</text>
<text x="370.60" y="463.20" font-size="12.0" fill="#231f20" text-anchor="middle" textLength="26.40" lengthAdjust="spacingAndGlyphs">HSC</text>
<text x="456.70" y="463.20" font-size="12.0" fill="#231f20" text-anchor="middle" textLength="25.20" lengthAdjust="spacingAndGlyphs">MPP</text>
<line x1="331.00" y1="482.30" x2="331.00" y2="644.50" stroke="#231f20" stroke-width="1.5"/>
<line x1="326.50" y1="643.80" x2="496.50" y2="643.80" stroke="#231f20" stroke-width="1.5"/>
<line x1="326.50" y1="487.40" x2="331.00" y2="487.40" stroke="#231f20" stroke-width="1.5"/>
<line x1="326.50" y1="526.30" x2="331.00" y2="526.30" stroke="#231f20" stroke-width="1.5"/>
<line x1="326.50" y1="565.50" x2="331.00" y2="565.50" stroke="#231f20" stroke-width="1.5"/>
<line x1="326.50" y1="604.40" x2="331.00" y2="604.40" stroke="#231f20" stroke-width="1.5"/>
<line x1="346.60" y1="643.80" x2="346.60" y2="648.00" stroke="#231f20" stroke-width="1.5"/>
<line x1="370.30" y1="643.80" x2="370.30" y2="648.00" stroke="#231f20" stroke-width="1.5"/>
<line x1="393.80" y1="643.80" x2="393.80" y2="648.00" stroke="#231f20" stroke-width="1.5"/>
<line x1="433.00" y1="643.80" x2="433.00" y2="648.00" stroke="#231f20" stroke-width="1.5"/>
<line x1="456.40" y1="643.80" x2="456.40" y2="648.00" stroke="#231f20" stroke-width="1.5"/>
<line x1="480.10" y1="643.80" x2="480.10" y2="648.00" stroke="#231f20" stroke-width="1.5"/>
<text x="321.90" y="491.30" font-size="10.8" fill="#231f20" text-anchor="end" textLength="48.40" lengthAdjust="spacingAndGlyphs">1000000</text>
<text x="321.90" y="530.20" font-size="10.8" fill="#231f20" text-anchor="end" textLength="41.40" lengthAdjust="spacingAndGlyphs">100000</text>
<text x="321.90" y="569.40" font-size="10.8" fill="#231f20" text-anchor="end" textLength="34.40" lengthAdjust="spacingAndGlyphs">10000</text>
<text x="321.90" y="608.30" font-size="10.8" fill="#231f20" text-anchor="end" textLength="27.40" lengthAdjust="spacingAndGlyphs">1000</text>
<text x="321.90" y="647.50" font-size="10.8" fill="#231f20" text-anchor="end" textLength="20.40" lengthAdjust="spacingAndGlyphs">100</text>
<text x="264.20" y="649.10" font-size="14" fill="#231f20" textLength="170.70" lengthAdjust="spacingAndGlyphs" transform="rotate(-90 264.20 649.10)">Cell count of transduced cell (cells/ml)</text>
<rect x="340.00" y="620.80" width="13.80" height="23.00" fill="#ec2a6c" stroke="none" stroke-width="0"/>
<rect x="363.10" y="540.00" width="14.30" height="103.80" fill="#ec2a6c" stroke="none" stroke-width="0"/>
<rect x="386.90" y="603.80" width="14.20" height="40.00" fill="#ec2a6c" stroke="none" stroke-width="0"/>
<rect x="425.90" y="568.40" width="14.40" height="75.40" fill="#30ba8c" stroke="none" stroke-width="0"/>
<rect x="450.30" y="594.40" width="13.40" height="49.40" fill="#30ba8c" stroke="none" stroke-width="0"/>
<rect x="473.20" y="581.10" width="14.30" height="62.70" fill="#30ba8c" stroke="none" stroke-width="0"/>
<line x1="343.40" y1="510.50" x2="363.80" y2="510.50" stroke="#231f20" stroke-width="1.3"/>
<line x1="373.10" y1="496.20" x2="394.30" y2="496.20" stroke="#231f20" stroke-width="1.3"/>
<polygon points="346.70,502.10 347.20,503.41 348.60,503.48 347.51,504.36 347.88,505.72 346.70,504.95 345.52,505.72 345.89,504.36 344.80,503.48 346.20,503.41" fill="#111"/>
<polygon points="351.30,502.10 351.80,503.41 353.20,503.48 352.11,504.36 352.48,505.72 351.30,504.95 350.12,505.72 350.49,504.36 349.40,503.48 350.80,503.41" fill="#111"/>
<polygon points="355.90,502.10 356.40,503.41 357.80,503.48 356.71,504.36 357.08,505.72 355.90,504.95 354.72,505.72 355.09,504.36 354.00,503.48 355.40,503.41" fill="#111"/>
<polygon points="360.50,502.10 361.00,503.41 362.40,503.48 361.31,504.36 361.68,505.72 360.50,504.95 359.32,505.72 359.69,504.36 358.60,503.48 360.00,503.41" fill="#111"/>
<polygon points="376.80,487.80 377.30,489.11 378.70,489.18 377.61,490.06 377.98,491.42 376.80,490.65 375.62,491.42 375.99,490.06 374.90,489.18 376.30,489.11" fill="#111"/>
<polygon points="381.40,487.80 381.90,489.11 383.30,489.18 382.21,490.06 382.58,491.42 381.40,490.65 380.22,491.42 380.59,490.06 379.50,489.18 380.90,489.11" fill="#111"/>
<polygon points="386.00,487.80 386.50,489.11 387.90,489.18 386.81,490.06 387.18,491.42 386.00,490.65 384.82,491.42 385.19,490.06 384.10,489.18 385.50,489.11" fill="#111"/>
<polygon points="390.60,487.80 391.10,489.11 392.50,489.18 391.41,490.06 391.78,491.42 390.60,490.65 389.42,491.42 389.79,490.06 388.70,489.18 390.10,489.11" fill="#111"/>
<line x1="346.60" y1="610.00" x2="346.60" y2="630.00" stroke="#231f20" stroke-width="1.2"/>
<line x1="370.30" y1="535.40" x2="370.30" y2="560.00" stroke="#231f20" stroke-width="1.2"/>
<line x1="366.60" y1="535.40" x2="374.00" y2="535.40" stroke="#231f20" stroke-width="1.2"/>
<line x1="393.80" y1="596.00" x2="393.80" y2="612.00" stroke="#231f20" stroke-width="1.2"/>
<line x1="433.00" y1="557.70" x2="433.00" y2="580.00" stroke="#231f20" stroke-width="1.2"/>
<line x1="430.00" y1="557.70" x2="436.00" y2="557.70" stroke="#231f20" stroke-width="1.2"/>
<line x1="455.90" y1="585.00" x2="455.90" y2="600.00" stroke="#231f20" stroke-width="1.2"/>
<ellipse cx="344.20" cy="604.30" rx="2.75" ry="2.95" fill="#ffffff" stroke="#111" stroke-width="1.3"/>
<ellipse cx="348.80" cy="606.20" rx="2.75" ry="2.95" fill="#ffffff" stroke="#111" stroke-width="1.3"/>
<ellipse cx="341.50" cy="613.10" rx="2.75" ry="2.95" fill="#ffffff" stroke="#111" stroke-width="1.3"/>
<ellipse cx="346.60" cy="614.60" rx="2.75" ry="2.95" fill="#ffffff" stroke="#111" stroke-width="1.3"/>
<ellipse cx="351.50" cy="617.20" rx="2.75" ry="2.95" fill="#ffffff" stroke="#111" stroke-width="1.3"/>
<ellipse cx="341.50" cy="619.70" rx="2.75" ry="2.95" fill="#ffffff" stroke="#111" stroke-width="1.3"/>
<ellipse cx="351.50" cy="623.80" rx="2.75" ry="2.95" fill="#ffffff" stroke="#111" stroke-width="1.3"/>
<ellipse cx="346.20" cy="626.50" rx="2.75" ry="2.95" fill="#ffffff" stroke="#111" stroke-width="1.3"/>
<ellipse cx="346.60" cy="636.50" rx="2.75" ry="2.95" fill="#ffffff" stroke="#111" stroke-width="1.3"/>
<ellipse cx="368.20" cy="529.50" rx="2.75" ry="2.95" fill="#ffffff" stroke="#111" stroke-width="1.3"/>
<ellipse cx="372.30" cy="525.40" rx="2.75" ry="2.95" fill="#ffffff" stroke="#111" stroke-width="1.3"/>
<ellipse cx="375.80" cy="526.90" rx="2.75" ry="2.95" fill="#ffffff" stroke="#111" stroke-width="1.3"/>
<ellipse cx="365.40" cy="545.80" rx="2.75" ry="2.95" fill="#ffffff" stroke="#111" stroke-width="1.3"/>
<ellipse cx="371.80" cy="545.40" rx="2.75" ry="2.95" fill="#ffffff" stroke="#111" stroke-width="1.3"/>
<ellipse cx="377.40" cy="544.60" rx="2.75" ry="2.95" fill="#ffffff" stroke="#111" stroke-width="1.3"/>
<ellipse cx="369.50" cy="553.10" rx="2.75" ry="2.95" fill="#ffffff" stroke="#111" stroke-width="1.3"/>
<ellipse cx="368.00" cy="562.30" rx="2.75" ry="2.95" fill="#ffffff" stroke="#111" stroke-width="1.3"/>
<ellipse cx="373.80" cy="559.70" rx="2.75" ry="2.95" fill="#ffffff" stroke="#111" stroke-width="1.3"/>
<ellipse cx="395.40" cy="587.70" rx="2.75" ry="2.95" fill="#ffffff" stroke="#111" stroke-width="1.3"/>
<ellipse cx="394.90" cy="594.60" rx="2.75" ry="2.95" fill="#ffffff" stroke="#111" stroke-width="1.3"/>
<ellipse cx="388.50" cy="597.70" rx="2.75" ry="2.95" fill="#ffffff" stroke="#111" stroke-width="1.3"/>
<ellipse cx="400.00" cy="600.80" rx="2.75" ry="2.95" fill="#ffffff" stroke="#111" stroke-width="1.3"/>
<ellipse cx="386.20" cy="603.10" rx="2.75" ry="2.95" fill="#ffffff" stroke="#111" stroke-width="1.3"/>
<ellipse cx="391.50" cy="604.30" rx="2.75" ry="2.95" fill="#ffffff" stroke="#111" stroke-width="1.3"/>
<ellipse cx="396.60" cy="604.60" rx="2.75" ry="2.95" fill="#ffffff" stroke="#111" stroke-width="1.3"/>
<ellipse cx="390.50" cy="614.60" rx="2.75" ry="2.95" fill="#ffffff" stroke="#111" stroke-width="1.3"/>
<ellipse cx="395.80" cy="612.80" rx="2.75" ry="2.95" fill="#ffffff" stroke="#111" stroke-width="1.3"/>
<rect x="426.47" y="543.48" width="5.85" height="5.85" fill="#ffffff" stroke="#111" stroke-width="1.3"/>
<rect x="435.68" y="542.98" width="5.85" height="5.85" fill="#ffffff" stroke="#111" stroke-width="1.3"/>
<rect x="429.07" y="550.08" width="5.85" height="5.85" fill="#ffffff" stroke="#111" stroke-width="1.3"/>
<rect x="424.38" y="563.78" width="5.85" height="5.85" fill="#ffffff" stroke="#111" stroke-width="1.3"/>
<rect x="436.47" y="562.58" width="5.85" height="5.85" fill="#ffffff" stroke="#111" stroke-width="1.3"/>
<rect x="430.07" y="568.58" width="5.85" height="5.85" fill="#ffffff" stroke="#111" stroke-width="1.3"/>
<rect x="425.27" y="615.08" width="5.85" height="5.85" fill="#ffffff" stroke="#111" stroke-width="1.3"/>
<rect x="430.07" y="609.28" width="5.85" height="5.85" fill="#ffffff" stroke="#111" stroke-width="1.3"/>
<rect x="434.77" y="613.88" width="5.85" height="5.85" fill="#ffffff" stroke="#111" stroke-width="1.3"/>
<rect x="453.47" y="576.78" width="5.85" height="5.85" fill="#ffffff" stroke="#111" stroke-width="1.3"/>
<rect x="458.47" y="583.88" width="5.85" height="5.85" fill="#ffffff" stroke="#111" stroke-width="1.3"/>
<rect x="449.18" y="587.68" width="5.85" height="5.85" fill="#ffffff" stroke="#111" stroke-width="1.3"/>
<rect x="453.77" y="585.88" width="5.85" height="5.85" fill="#ffffff" stroke="#111" stroke-width="1.3"/>
<rect x="458.47" y="590.78" width="5.85" height="5.85" fill="#ffffff" stroke="#111" stroke-width="1.3"/>
<rect x="452.97" y="592.88" width="5.85" height="5.85" fill="#ffffff" stroke="#111" stroke-width="1.3"/>
<rect x="451.18" y="607.88" width="5.85" height="5.85" fill="#ffffff" stroke="#111" stroke-width="1.3"/>
<rect x="455.88" y="613.08" width="5.85" height="5.85" fill="#ffffff" stroke="#111" stroke-width="1.3"/>
<rect x="453.47" y="620.28" width="5.85" height="5.85" fill="#ffffff" stroke="#111" stroke-width="1.3"/>
<rect x="477.38" y="576.68" width="5.85" height="5.85" fill="#ffffff" stroke="#111" stroke-width="1.3"/>
<rect x="475.97" y="561.38" width="5.85" height="5.85" fill="#ffffff" stroke="#111" stroke-width="1.3"/>
<rect x="481.68" y="565.88" width="5.85" height="5.85" fill="#ffffff" stroke="#111" stroke-width="1.3"/>
<rect x="471.57" y="569.48" width="5.85" height="5.85" fill="#ffffff" stroke="#111" stroke-width="1.3"/>
<rect x="477.57" y="570.78" width="5.85" height="5.85" fill="#ffffff" stroke="#111" stroke-width="1.3"/>
<rect x="484.27" y="571.78" width="5.85" height="5.85" fill="#ffffff" stroke="#111" stroke-width="1.3"/>
<rect x="477.18" y="608.18" width="5.85" height="5.85" fill="#ffffff" stroke="#111" stroke-width="1.3"/>
<rect x="480.68" y="613.08" width="5.85" height="5.85" fill="#ffffff" stroke="#111" stroke-width="1.3"/>
<rect x="480.68" y="619.98" width="5.85" height="5.85" fill="#ffffff" stroke="#111" stroke-width="1.3"/>
<line x1="480.40" y1="576.00" x2="480.40" y2="584.60" stroke="#231f20" stroke-width="1.2"/>
<line x1="477.10" y1="584.60" x2="483.80" y2="584.60" stroke="#231f20" stroke-width="1.2"/>
<text x="352.60" y="660.10" font-size="11.95" fill="#231f20" text-anchor="end" transform="rotate(-45 352.60 660.10)">STF</text>
<text x="439.00" y="660.10" font-size="11.95" fill="#231f20" text-anchor="end" transform="rotate(-45 439.00 660.10)">STF</text>
<text x="376.30" y="660.10" font-size="11.95" fill="#231f20" text-anchor="end" transform="rotate(-45 376.30 660.10)">STF+Q</text>
<text x="462.40" y="660.10" font-size="11.95" fill="#231f20" text-anchor="end" transform="rotate(-45 462.40 660.10)">STF+Q</text>
<text x="399.80" y="660.10" font-size="11.95" fill="#231f20" text-anchor="end" transform="rotate(-45 399.80 660.10)">STF+CPI203</text>
<text x="486.10" y="660.10" font-size="11.95" fill="#231f20" text-anchor="end" transform="rotate(-45 486.10 660.10)">STF+CPI203</text>
<text x="10.60" y="751.90" font-size="17.4" fill="#111" font-weight="bold">F</text>
<line x1="80.90" y1="762.00" x2="80.90" y2="909.70" stroke="#231f20" stroke-width="1.5"/>
<line x1="76.50" y1="909.00" x2="509.80" y2="909.00" stroke="#231f20" stroke-width="1.5"/>
<line x1="76.50" y1="882.50" x2="80.90" y2="882.50" stroke="#231f20" stroke-width="1.5"/>
<line x1="76.50" y1="856.20" x2="80.90" y2="856.20" stroke="#231f20" stroke-width="1.5"/>
<line x1="76.50" y1="829.90" x2="80.90" y2="829.90" stroke="#231f20" stroke-width="1.5"/>
<line x1="76.50" y1="803.60" x2="80.90" y2="803.60" stroke="#231f20" stroke-width="1.5"/>
<line x1="76.50" y1="777.30" x2="80.90" y2="777.30" stroke="#231f20" stroke-width="1.5"/>
<line x1="119.50" y1="909.00" x2="119.50" y2="913.50" stroke="#231f20" stroke-width="1.5"/>
<line x1="205.30" y1="909.00" x2="205.30" y2="913.50" stroke="#231f20" stroke-width="1.5"/>
<line x1="290.80" y1="909.00" x2="290.80" y2="913.50" stroke="#231f20" stroke-width="1.5"/>
<line x1="376.30" y1="909.00" x2="376.30" y2="913.50" stroke="#231f20" stroke-width="1.5"/>
<line x1="462.30" y1="909.00" x2="462.30" y2="913.50" stroke="#231f20" stroke-width="1.5"/>
<text x="71.70" y="912.70" font-size="11" fill="#231f20" text-anchor="end" textLength="7.30" lengthAdjust="spacingAndGlyphs">0</text>
<text x="66.20" y="885.20" font-size="10" fill="#231f20" text-anchor="end" textLength="28.50" lengthAdjust="spacingAndGlyphs">2×10</text>
<text x="66.70" y="880.10" font-size="7.4" fill="#231f20" textLength="4.80" lengthAdjust="spacingAndGlyphs">5</text>
<text x="66.20" y="858.90" font-size="10" fill="#231f20" text-anchor="end" textLength="28.50" lengthAdjust="spacingAndGlyphs">4×10</text>
<text x="66.70" y="853.80" font-size="7.4" fill="#231f20" textLength="4.80" lengthAdjust="spacingAndGlyphs">5</text>
<text x="66.20" y="832.60" font-size="10" fill="#231f20" text-anchor="end" textLength="28.50" lengthAdjust="spacingAndGlyphs">6×10</text>
<text x="66.70" y="827.50" font-size="7.4" fill="#231f20" textLength="4.80" lengthAdjust="spacingAndGlyphs">5</text>
<text x="66.20" y="806.30" font-size="10" fill="#231f20" text-anchor="end" textLength="28.50" lengthAdjust="spacingAndGlyphs">8×10</text>
<text x="66.70" y="801.20" font-size="7.4" fill="#231f20" textLength="4.80" lengthAdjust="spacingAndGlyphs">5</text>
<text x="66.20" y="780.00" font-size="10" fill="#231f20" text-anchor="end" textLength="34.20" lengthAdjust="spacingAndGlyphs">10×10</text>
<text x="66.70" y="774.90" font-size="7.4" fill="#231f20" textLength="4.80" lengthAdjust="spacingAndGlyphs">5</text>
<text x="22.40" y="864.20" font-size="14" fill="#231f20" textLength="58.00" lengthAdjust="spacingAndGlyphs" transform="rotate(-90 22.40 864.20)">H3K27ac MFI</text>
<text x="119.35" y="928.60" font-size="11.4" fill="#231f20" text-anchor="middle" textLength="39.90" lengthAdjust="spacingAndGlyphs">CD34+</text>
<text x="205.45" y="928.60" font-size="11.4" fill="#231f20" text-anchor="middle" textLength="25.70" lengthAdjust="spacingAndGlyphs">HSC</text>
<text x="291.15" y="928.60" font-size="11.4" fill="#231f20" text-anchor="middle" textLength="25.90" lengthAdjust="spacingAndGlyphs">MPP</text>
<text x="377.00" y="928.60" font-size="11.4" fill="#231f20" text-anchor="middle" textLength="27.00" lengthAdjust="spacingAndGlyphs">CMP</text>
<text x="462.85" y="928.60" font-size="11.4" fill="#231f20" text-anchor="middle" textLength="27.50" lengthAdjust="spacingAndGlyphs">GMP</text>
<line x1="95.40" y1="790.90" x2="119.00" y2="790.90" stroke="#231f20" stroke-width="1.3"/>
<polygon points="102.60,782.50 103.10,783.81 104.50,783.88 103.41,784.76 103.78,786.12 102.60,785.35 101.42,786.12 101.79,784.76 100.70,783.88 102.10,783.81" fill="#111"/>
<polygon points="107.20,782.50 107.70,783.81 109.10,783.88 108.01,784.76 108.38,786.12 107.20,785.35 106.02,786.12 106.39,784.76 105.30,783.88 106.70,783.81" fill="#111"/>
<polygon points="111.80,782.50 112.30,783.81 113.70,783.88 112.61,784.76 112.98,786.12 111.80,785.35 110.62,786.12 110.99,784.76 109.90,783.88 111.30,783.81" fill="#111"/>
<line x1="118.80" y1="766.90" x2="141.00" y2="766.90" stroke="#231f20" stroke-width="1.3"/>
<polygon points="125.30,758.50 125.80,759.81 127.20,759.88 126.11,760.76 126.48,762.12 125.30,761.35 124.12,762.12 124.49,760.76 123.40,759.88 124.80,759.81" fill="#111"/>
<polygon points="129.90,758.50 130.40,759.81 131.80,759.88 130.71,760.76 131.08,762.12 129.90,761.35 128.72,762.12 129.09,760.76 128.00,759.88 129.40,759.81" fill="#111"/>
<polygon points="134.50,758.50 135.00,759.81 136.40,759.88 135.31,760.76 135.68,762.12 134.50,761.35 133.32,762.12 133.69,760.76 132.60,759.88 134.00,759.81" fill="#111"/>
<line x1="178.40" y1="790.90" x2="201.60" y2="790.90" stroke="#231f20" stroke-width="1.3"/>
<polygon points="185.40,782.50 185.90,783.81 187.30,783.88 186.21,784.76 186.58,786.12 185.40,785.35 184.22,786.12 184.59,784.76 183.50,783.88 184.90,783.81" fill="#111"/>
<polygon points="190.00,782.50 190.50,783.81 191.90,783.88 190.81,784.76 191.18,786.12 190.00,785.35 188.82,786.12 189.19,784.76 188.10,783.88 189.50,783.81" fill="#111"/>
<polygon points="194.60,782.50 195.10,783.81 196.50,783.88 195.41,784.76 195.78,786.12 194.60,785.35 193.42,786.12 193.79,784.76 192.70,783.88 194.10,783.81" fill="#111"/>
<line x1="205.50" y1="766.90" x2="226.20" y2="766.90" stroke="#231f20" stroke-width="1.3"/>
<polygon points="213.55,758.50 214.05,759.81 215.45,759.88 214.36,760.76 214.73,762.12 213.55,761.35 212.37,762.12 212.74,760.76 211.65,759.88 213.05,759.81" fill="#111"/>
<polygon points="218.15,758.50 218.65,759.81 220.05,759.88 218.96,760.76 219.33,762.12 218.15,761.35 216.97,762.12 217.34,760.76 216.25,759.88 217.65,759.81" fill="#111"/>
<line x1="261.70" y1="766.90" x2="284.90" y2="766.90" stroke="#231f20" stroke-width="1.3"/>
<polygon points="268.70,758.50 269.20,759.81 270.60,759.88 269.51,760.76 269.88,762.12 268.70,761.35 267.52,762.12 267.89,760.76 266.80,759.88 268.20,759.81" fill="#111"/>
<polygon points="273.30,758.50 273.80,759.81 275.20,759.88 274.11,760.76 274.48,762.12 273.30,761.35 272.12,762.12 272.49,760.76 271.40,759.88 272.80,759.81" fill="#111"/>
<polygon points="277.90,758.50 278.40,759.81 279.80,759.88 278.71,760.76 279.08,762.12 277.90,761.35 276.72,762.12 277.09,760.76 276.00,759.88 277.40,759.81" fill="#111"/>
<line x1="286.80" y1="790.90" x2="310.00" y2="790.90" stroke="#231f20" stroke-width="1.3"/>
<polygon points="296.10,782.50 296.60,783.81 298.00,783.88 296.91,784.76 297.28,786.12 296.10,785.35 294.92,786.12 295.29,784.76 294.20,783.88 295.60,783.81" fill="#111"/>
<polygon points="300.70,782.50 301.20,783.81 302.60,783.88 301.51,784.76 301.88,786.12 300.70,785.35 299.52,786.12 299.89,784.76 298.80,783.88 300.20,783.81" fill="#111"/>
<circle cx="92.30" cy="860.40" r="4.40" fill="#3d4f63" stroke="#2c3a4a" stroke-width="0.6"/>
<circle cx="101.00" cy="864.20" r="4.40" fill="#3d4f63" stroke="#2c3a4a" stroke-width="0.6"/>
<circle cx="96.30" cy="878.90" r="4.40" fill="#3d4f63" stroke="#2c3a4a" stroke-width="0.6"/>
<rect x="115.10" y="804.10" width="8.80" height="8.80" fill="#3d4f63" stroke="#2c3a4a" stroke-width="0.6"/>
<rect x="118.20" y="829.80" width="8.80" height="8.80" fill="#3d4f63" stroke="#2c3a4a" stroke-width="0.6"/>
<rect x="110.20" y="837.10" width="8.80" height="8.80" fill="#3d4f63" stroke="#2c3a4a" stroke-width="0.6"/>
<polygon points="141.60,851.60 145.90,859.60 137.30,859.60" fill="#3d4f63" stroke="#2c3a4a" stroke-width="0.5" stroke-linejoin="miter"/>
<polygon points="138.20,865.40 142.50,873.40 133.90,873.40" fill="#3d4f63" stroke="#2c3a4a" stroke-width="0.5" stroke-linejoin="miter"/>
<polygon points="147.30,863.30 151.60,871.30 143.00,871.30" fill="#3d4f63" stroke="#2c3a4a" stroke-width="0.5" stroke-linejoin="miter"/>
<line x1="96.50" y1="858.20" x2="96.50" y2="874.00" stroke="#222" stroke-width="1.3"/>
<line x1="92.50" y1="858.20" x2="100.50" y2="858.20" stroke="#222" stroke-width="1.3"/>
<line x1="92.50" y1="874.00" x2="100.50" y2="874.00" stroke="#222" stroke-width="1.3"/>
<line x1="89.10" y1="867.30" x2="103.90" y2="867.30" stroke="#222" stroke-width="1.3"/>
<line x1="119.40" y1="808.50" x2="119.40" y2="845.20" stroke="#222" stroke-width="1.3"/>
<line x1="113.90" y1="808.50" x2="124.90" y2="808.50" stroke="#222" stroke-width="1.3"/>
<line x1="113.90" y1="845.20" x2="124.90" y2="845.20" stroke="#222" stroke-width="1.3"/>
<line x1="112.15" y1="828.50" x2="126.65" y2="828.50" stroke="#222" stroke-width="1.3"/>
<line x1="141.60" y1="857.80" x2="141.60" y2="872.00" stroke="#222" stroke-width="1.3"/>
<line x1="138.60" y1="857.80" x2="144.60" y2="857.80" stroke="#222" stroke-width="1.3"/>
<line x1="138.60" y1="872.00" x2="144.60" y2="872.00" stroke="#222" stroke-width="1.3"/>
<line x1="133.80" y1="864.20" x2="149.40" y2="864.20" stroke="#222" stroke-width="1.3"/>
<circle cx="180.40" cy="850.70" r="4.40" fill="#e5296b" stroke="#c21f59" stroke-width="0.6"/>
<circle cx="180.40" cy="862.20" r="4.40" fill="#e5296b" stroke="#c21f59" stroke-width="0.6"/>
<circle cx="180.40" cy="874.60" r="4.40" fill="#e5296b" stroke="#c21f59" stroke-width="0.6"/>
<rect x="198.50" y="796.60" width="8.80" height="8.80" fill="#e5296b" stroke="#c21f59" stroke-width="0.6"/>
<rect x="193.30" y="827.40" width="8.80" height="8.80" fill="#e5296b" stroke="#c21f59" stroke-width="0.6"/>
<rect x="203.70" y="824.80" width="8.80" height="8.80" fill="#e5296b" stroke="#c21f59" stroke-width="0.6"/>
<polygon points="226.30,840.80 230.60,848.80 222.00,848.80" fill="#e5296b" stroke="#c21f59" stroke-width="0.5" stroke-linejoin="miter"/>
<polygon points="230.10,855.90 234.40,863.90 225.80,863.90" fill="#e5296b" stroke="#c21f59" stroke-width="0.5" stroke-linejoin="miter"/>
<polygon points="222.30,861.10 226.60,869.10 218.00,869.10" fill="#e5296b" stroke="#c21f59" stroke-width="0.5" stroke-linejoin="miter"/>
<line x1="180.40" y1="851.20" x2="180.40" y2="874.30" stroke="#222" stroke-width="1.3"/>
<line x1="176.90" y1="851.20" x2="183.90" y2="851.20" stroke="#222" stroke-width="1.3"/>
<line x1="176.90" y1="874.30" x2="183.90" y2="874.30" stroke="#222" stroke-width="1.3"/>
<line x1="173.05" y1="862.50" x2="187.75" y2="862.50" stroke="#222" stroke-width="1.3"/>
<line x1="202.90" y1="806.00" x2="202.90" y2="838.20" stroke="#222" stroke-width="1.3"/>
<line x1="199.40" y1="806.00" x2="206.40" y2="806.00" stroke="#222" stroke-width="1.3"/>
<line x1="199.40" y1="838.20" x2="206.40" y2="838.20" stroke="#222" stroke-width="1.3"/>
<line x1="195.55" y1="820.90" x2="210.25" y2="820.90" stroke="#222" stroke-width="1.3"/>
<line x1="226.30" y1="847.80" x2="226.30" y2="866.30" stroke="#222" stroke-width="1.3"/>
<line x1="222.50" y1="847.80" x2="230.10" y2="847.80" stroke="#222" stroke-width="1.3"/>
<line x1="222.50" y1="866.30" x2="230.10" y2="866.30" stroke="#222" stroke-width="1.3"/>
<line x1="218.90" y1="857.00" x2="233.70" y2="857.00" stroke="#222" stroke-width="1.3"/>
<circle cx="261.60" cy="862.90" r="4.40" fill="#33b88a" stroke="#26996f" stroke-width="0.6"/>
<circle cx="269.10" cy="867.20" r="4.40" fill="#33b88a" stroke="#26996f" stroke-width="0.6"/>
<circle cx="261.30" cy="873.60" r="4.40" fill="#33b88a" stroke="#26996f" stroke-width="0.6"/>
<rect x="282.80" y="803.40" width="8.80" height="8.80" fill="#33b88a" stroke="#26996f" stroke-width="0.6"/>
<rect x="282.80" y="827.60" width="8.80" height="8.80" fill="#33b88a" stroke="#26996f" stroke-width="0.6"/>
<rect x="282.80" y="836.60" width="8.80" height="8.80" fill="#33b88a" stroke="#26996f" stroke-width="0.6"/>
<polygon points="310.10,847.60 314.40,855.60 305.80,855.60" fill="#33b88a" stroke="#26996f" stroke-width="0.5" stroke-linejoin="miter"/>
<polygon points="306.60,863.70 310.90,871.70 302.30,871.70" fill="#33b88a" stroke="#26996f" stroke-width="0.5" stroke-linejoin="miter"/>
<polygon points="314.80,862.70 319.10,870.70 310.50,870.70" fill="#33b88a" stroke="#26996f" stroke-width="0.5" stroke-linejoin="miter"/>
<line x1="264.70" y1="863.70" x2="264.70" y2="873.30" stroke="#222" stroke-width="1.3"/>
<line x1="261.70" y1="863.70" x2="267.70" y2="863.70" stroke="#222" stroke-width="1.3"/>
<line x1="261.70" y1="873.30" x2="267.70" y2="873.30" stroke="#222" stroke-width="1.3"/>
<line x1="257.35" y1="868.40" x2="272.05" y2="868.40" stroke="#222" stroke-width="1.3"/>
<line x1="287.20" y1="812.80" x2="287.20" y2="844.00" stroke="#222" stroke-width="1.3"/>
<line x1="283.70" y1="812.80" x2="290.70" y2="812.80" stroke="#222" stroke-width="1.3"/>
<line x1="283.70" y1="844.00" x2="290.70" y2="844.00" stroke="#222" stroke-width="1.3"/>
<line x1="279.85" y1="827.50" x2="294.55" y2="827.50" stroke="#222" stroke-width="1.3"/>
<line x1="310.10" y1="854.20" x2="310.10" y2="870.70" stroke="#222" stroke-width="1.3"/>
<line x1="307.10" y1="854.20" x2="313.10" y2="854.20" stroke="#222" stroke-width="1.3"/>
<line x1="307.10" y1="870.70" x2="313.10" y2="870.70" stroke="#222" stroke-width="1.3"/>
<line x1="302.75" y1="862.00" x2="317.45" y2="862.00" stroke="#222" stroke-width="1.3"/>
<circle cx="344.60" cy="875.60" r="4.40" fill="#3f80c4" stroke="#2f68a6" stroke-width="0.6"/>
<circle cx="353.70" cy="876.20" r="4.40" fill="#3f80c4" stroke="#2f68a6" stroke-width="0.6"/>
<circle cx="348.50" cy="888.10" r="4.40" fill="#3f80c4" stroke="#2f68a6" stroke-width="0.6"/>
<rect x="366.90" y="852.50" width="8.80" height="8.80" fill="#3f80c4" stroke="#2f68a6" stroke-width="0.6"/>
<rect x="366.90" y="861.20" width="8.80" height="8.80" fill="#3f80c4" stroke="#2f68a6" stroke-width="0.6"/>
<rect x="366.90" y="883.90" width="8.80" height="8.80" fill="#3f80c4" stroke="#2f68a6" stroke-width="0.6"/>
<polygon points="393.10,875.60 397.40,883.60 388.80,883.60" fill="#3f80c4" stroke="#2f68a6" stroke-width="0.5" stroke-linejoin="miter"/>
<polygon points="391.20,885.60 395.50,893.60 386.90,893.60" fill="#3f80c4" stroke="#2f68a6" stroke-width="0.5" stroke-linejoin="miter"/>
<polygon points="396.90,883.70 401.20,891.70 392.60,891.70" fill="#3f80c4" stroke="#2f68a6" stroke-width="0.5" stroke-linejoin="miter"/>
<line x1="348.80" y1="876.20" x2="348.80" y2="886.70" stroke="#222" stroke-width="1.3"/>
<line x1="345.80" y1="876.20" x2="351.80" y2="876.20" stroke="#222" stroke-width="1.3"/>
<line x1="345.80" y1="886.70" x2="351.80" y2="886.70" stroke="#222" stroke-width="1.3"/>
<line x1="340.95" y1="881.50" x2="356.65" y2="881.50" stroke="#222" stroke-width="1.3"/>
<line x1="371.30" y1="857.50" x2="371.30" y2="886.30" stroke="#222" stroke-width="1.3"/>
<line x1="367.55" y1="857.50" x2="375.05" y2="857.50" stroke="#222" stroke-width="1.3"/>
<line x1="367.55" y1="886.30" x2="375.05" y2="886.30" stroke="#222" stroke-width="1.3"/>
<line x1="363.85" y1="871.90" x2="378.75" y2="871.90" stroke="#222" stroke-width="1.3"/>
<line x1="393.80" y1="883.00" x2="393.80" y2="889.50" stroke="#222" stroke-width="1.3"/>
<line x1="391.30" y1="883.00" x2="396.30" y2="883.00" stroke="#222" stroke-width="1.3"/>
<line x1="391.30" y1="889.50" x2="396.30" y2="889.50" stroke="#222" stroke-width="1.3"/>
<line x1="386.10" y1="886.20" x2="401.50" y2="886.20" stroke="#222" stroke-width="1.3"/>
<circle cx="431.50" cy="880.40" r="4.40" fill="#27b4c8" stroke="#1e96a8" stroke-width="0.6"/>
<circle cx="439.80" cy="883.50" r="4.40" fill="#27b4c8" stroke="#1e96a8" stroke-width="0.6"/>
<circle cx="431.20" cy="893.80" r="4.40" fill="#27b4c8" stroke="#1e96a8" stroke-width="0.6"/>
<rect x="452.70" y="861.80" width="8.80" height="8.80" fill="#27b4c8" stroke="#1e96a8" stroke-width="0.6"/>
<rect x="463.30" y="862.50" width="8.80" height="8.80" fill="#27b4c8" stroke="#1e96a8" stroke-width="0.6"/>
<rect x="457.90" y="889.40" width="8.80" height="8.80" fill="#27b4c8" stroke="#1e96a8" stroke-width="0.6"/>
<polygon points="486.00,875.00 490.30,883.00 481.70,883.00" fill="#27b4c8" stroke="#1e96a8" stroke-width="0.5" stroke-linejoin="miter"/>
<polygon points="486.00,885.60 490.30,893.60 481.70,893.60" fill="#27b4c8" stroke="#1e96a8" stroke-width="0.5" stroke-linejoin="miter"/>
<polygon points="494.60,883.70 498.90,891.70 490.30,891.70" fill="#27b4c8" stroke="#1e96a8" stroke-width="0.5" stroke-linejoin="miter"/>
<line x1="435.00" y1="881.90" x2="435.00" y2="890.00" stroke="#222" stroke-width="1.3"/>
<line x1="431.50" y1="881.90" x2="438.50" y2="881.90" stroke="#222" stroke-width="1.3"/>
<line x1="431.50" y1="890.00" x2="438.50" y2="890.00" stroke="#222" stroke-width="1.3"/>
<line x1="426.05" y1="885.80" x2="443.95" y2="885.80" stroke="#222" stroke-width="1.3"/>
<line x1="462.30" y1="858.50" x2="462.30" y2="890.00" stroke="#222" stroke-width="1.3"/>
<line x1="457.65" y1="858.50" x2="466.95" y2="858.50" stroke="#222" stroke-width="1.3"/>
<line x1="457.65" y1="890.00" x2="466.95" y2="890.00" stroke="#222" stroke-width="1.3"/>
<line x1="453.45" y1="874.20" x2="471.15" y2="874.20" stroke="#222" stroke-width="1.3"/>
<line x1="490.80" y1="879.60" x2="490.80" y2="890.00" stroke="#222" stroke-width="1.3"/>
<line x1="487.30" y1="879.60" x2="494.30" y2="879.60" stroke="#222" stroke-width="1.3"/>
<line x1="487.30" y1="890.00" x2="494.30" y2="890.00" stroke="#222" stroke-width="1.3"/>
<line x1="482.15" y1="885.20" x2="499.45" y2="885.20" stroke="#222" stroke-width="1.3"/>
<circle cx="208.70" cy="944.50" r="4.00" fill="none" stroke="#222" stroke-width="1.1"/>
<text x="217.90" y="948.40" font-size="10.8" fill="#231f20" textLength="19.00" lengthAdjust="spacingAndGlyphs">STF</text>
<rect x="246.60" y="940.60" width="8.80" height="8.00" fill="none" stroke="#222" stroke-width="1.1"/>
<text x="260.20" y="948.40" font-size="10.8" fill="#231f20" textLength="36.40" lengthAdjust="spacingAndGlyphs">STF+Q</text>
<polygon points="310,940.2 314.6,948.8 305.4,948.8" fill="none" stroke="#222" stroke-width="1.1"/>
<text x="319.40" y="948.40" font-size="10.8" fill="#231f20" textLength="65.20" lengthAdjust="spacingAndGlyphs">STF+CPI203</text>
<rect x="0.5" y="0.5" width="519" height="960" fill="none" stroke="#2b2b2b" stroke-width="1.2"/>
</svg>
</body></html>
